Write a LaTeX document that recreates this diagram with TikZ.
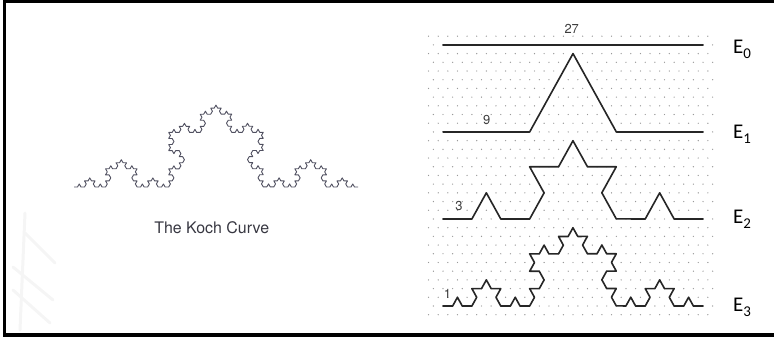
\documentclass[tikz,border=0pt]{standalone}
\usepackage{fontspec}
\setmainfont{TeX Gyre Heros}
\newfontfamily\calibri{Carlito}
\usepackage{tikz}
\usetikzlibrary{decorations.fractals}
\definecolor{curvegray}{RGB}{80,80,96}
\definecolor{capgray}{RGB}{55,55,65}
\definecolor{lblgray}{RGB}{60,60,60}
\tikzset{
  kochpen/.style={draw=black!85, line width=1.6bp, line cap=round, line join=round},
  finepen/.style={draw=curvegray, line width=0.9bp, line join=round},
  gridpt/.style={fill=black!40},
  lenlbl/.style={font=\fontsize{13}{13}\selectfont, text=lblgray, inner sep=0pt},
  stagelbl/.style={font=\calibri\fontsize{21}{21}\selectfont, text=black,
    inner sep=0pt, anchor=base west},
  capt/.style={font=\fontsize{16}{16}\selectfont, text=capgray, inner sep=0pt, anchor=base},
  ghost/.style={draw=black!4, line width=3bp, line cap=round},
}
\newcommand{\stg}[1]{E\raisebox{-5bp}{\fontsize{15}{15}\selectfont #1}}

\begin{document}
\begin{tikzpicture}[x=1bp, y=1bp, decoration=Koch snowflake]
\useasboundingbox (0,0) rectangle (774,337);
% faint marks of the slide background
\draw[ghost] (25,124) -- (20,7);
\draw[ghost] (25,104) -- (55,74);
\draw[ghost] (13,70) -- (53,37);
\draw[ghost] (13,47) -- (50,14);
% left: the curve
\draw[finepen] decorate{ decorate{ decorate{ decorate{ (74,150) -- (358,150) }}}};
\node[capt] (kcap) at (211.7,104) {The Koch Curve};
% right: construction on the dotted grid
\begin{scope}[transform canvas={shift={(443bp,31bp)}, yscale=1.0436}, x=9.63bp, y=9.63bp]
  \foreach \r in {-1,...,31}{
    \pgfmathsetmacro\off{mod(\r+2,2)/2}
    \foreach \c in {-1,...,28}
      \fill[gridpt] ({\c-\off},{\r*0.866}) circle (0.07);
  }
  \draw[kochpen] (0,{30*0.866}) -- (27,{30*0.866});
  \draw[kochpen] decorate{ (0,{20*0.866}) -- (27,{20*0.866}) };
  \draw[kochpen] decorate{ decorate{ (0,{10*0.866}) -- (27,{10*0.866}) }};
  \draw[kochpen] decorate{ decorate{ decorate{ (0,0) -- (27,0) }}};
\end{scope}
\node[lenlbl] (l27) at (571.7,308) {27};
\node[lenlbl] (l9) at (486.7,217.3) {9};
\node[lenlbl] (l3) at (459,131.2) {3};
\node[lenlbl] (l1) at (447.5,43) {1};
\node[stagelbl] (e0) at (733,284) {\stg{0}};
\node[stagelbl] (e1) at (733,198.5) {\stg{1}};
\node[stagelbl] (e2) at (733,113.5) {\stg{2}};
\node[stagelbl] (e3) at (733,25.5) {\stg{3}};
\draw[line width=3.2bp] (4.5,2) rectangle (778,335.7);
\end{tikzpicture}
\end{document}
